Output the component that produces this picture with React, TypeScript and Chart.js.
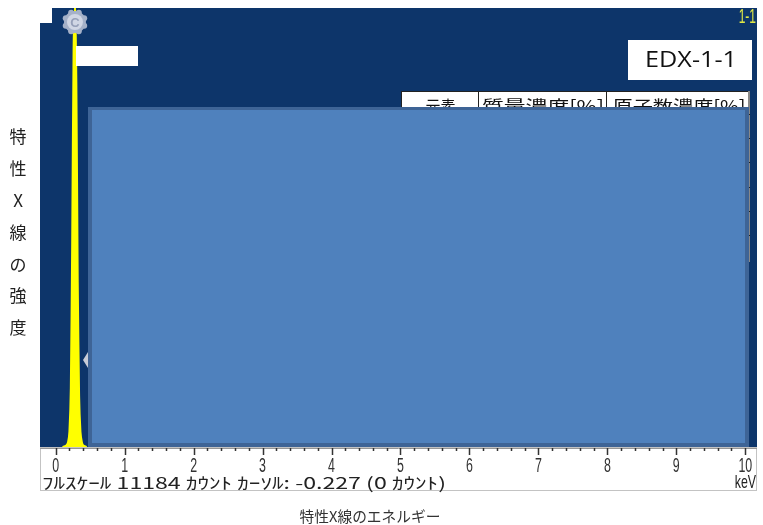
import React, { useEffect, useRef } from "react";
import { Chart, registerables } from "chart.js";

Chart.register(...registerables);

// ---- data ----
const energyKeV = [0.1, 0.15, 0.18, 0.2, 0.22, 0.24, 0.26, 0.28, 0.3, 0.32, 0.34, 0.36, 0.38, 0.4, 0.45];
const counts = [0, 30, 120, 400, 1500, 5200, 10100, 11184, 9300, 4200, 1300, 380, 120, 40, 0];
const fullScaleCounts = 11184;
const xMin = -0.227;
const xMax = 10.17;
const majorTicks = [0, 1, 2, 3, 4, 5, 6, 7, 8, 9, 10];
const tickLabels = ["0", "1", "2", "3", "4", "5", "6", "7", "8", "9", "10"];
const minorStep = 0.2;
const peakLabel = "C";
const peakEnergy = 0.28;
const yAxisTitle = ["特", "性", "X", "線", "の", "強", "度"];
const xAxisTitle = "特性X線のエネルギー";
const infoText = "ﾌﾙｽｹｰﾙ 11184 ｶｳﾝﾄ ｶｰｿﾙ: -0.227 (0 ｶｳﾝﾄ)";
const unitText = "keV";
const sampleLabel = "EDX-1-1";
const cornerLabel = "1-1";
const tableHeaders = ["元素", "質量濃度[%]", "原子数濃度[%]"];

const NAVY = "rgb(13,53,106)";
const JP = '"Noto Sans CJK JP", "Noto Sans", sans-serif';
const SANS = '"Liberation Sans", "DejaVu Sans", sans-serif';

function fitText(ctx: CanvasRenderingContext2D, text: string, x: number, y: number, width: number, align: "left" | "center" | "right") {
  const w = ctx.measureText(text).width;
  const s = width / w;
  ctx.save();
  ctx.textAlign = "left";
  let left = x;
  if (align === "center") left = x - width / 2;
  if (align === "right") left = x - width;
  ctx.translate(left, y);
  ctx.scale(s, 1);
  ctx.fillText(text, 0, 0);
  ctx.restore();
}

function narrowText(ctx: CanvasRenderingContext2D, text: string, x: number, y: number, sx: number, align: "left" | "center" | "right") {
  ctx.save();
  ctx.translate(x, y);
  ctx.scale(sx, 1);
  ctx.textAlign = align;
  ctx.fillText(text, 0, 0);
  ctx.restore();
}

const decorPlugin = {
  id: "decor",
  beforeDraw(chart: any) {
    const { ctx, chartArea: a } = chart;
    ctx.save();
    ctx.fillStyle = "#ffffff";
    ctx.fillRect(0, 0, chart.width, chart.height);
    ctx.fillStyle = NAVY;
    ctx.fillRect(a.left, a.top, a.right - a.left, a.bottom - a.top);
    ctx.fillStyle = "#ffffff";
    ctx.fillRect(a.left, a.top - 1, 12, 16);
    ctx.restore();
  },
  afterDatasetsDraw(chart: any) {
    const { ctx, chartArea: a } = chart;
    const xs = chart.scales.x;
    ctx.save();

    // peak marker (gear)
    const px = xs.getPixelForValue(peakEnergy);
    const py = a.top + 14;
    ctx.fillStyle = "rgb(165,177,200)";
    for (let i = 0; i < 8; i++) {
      const ang = (i * Math.PI) / 4 + Math.PI / 8;
      ctx.beginPath();
      ctx.arc(px + Math.cos(ang) * 10, py + Math.sin(ang) * 10, 3, 0, Math.PI * 2);
      ctx.fill();
    }
    ctx.beginPath();
    ctx.arc(px, py, 11, 0, Math.PI * 2);
    ctx.fill();
    ctx.fillStyle = "rgb(208,214,228)";
    ctx.beginPath();
    ctx.arc(px, py, 8, 0, Math.PI * 2);
    ctx.fill();
    ctx.fillStyle = "rgb(150,160,185)";
    ctx.font = "bold 13px " + SANS;
    ctx.textAlign = "center";
    ctx.textBaseline = "middle";
    ctx.fillText(peakLabel, px, py + 1);

    // white label box near peak
    ctx.fillStyle = "#ffffff";
    ctx.fillRect(76, 46, 62, 20);

    // corner label
    ctx.fillStyle = "rgb(225,232,70)";
    ctx.font = "20px " + SANS;
    ctx.textBaseline = "middle";
    narrowText(ctx, cornerLabel, a.right - 1, 17, 0.6, "right");

    // sample label box
    ctx.fillStyle = "#ffffff";
    ctx.fillRect(628, 40, 124, 40);
    ctx.fillStyle = "#111";
    ctx.font = "21px " + '"Open Sans", "Noto Sans", sans-serif';
    ctx.textBaseline = "middle";
    fitText(ctx, sampleLabel, 691, 61, 92, "center");

    // table
    const tL = 401, tR = 750, tT = 91, tB = 262;
    ctx.fillStyle = "#ffffff";
    ctx.fillRect(tL, tT, tR - tL, tB - tT);
    ctx.strokeStyle = "#222";
    ctx.lineWidth = 1;
    ctx.strokeRect(tL + 0.5, tT + 0.5, tR - tL - 1, tB - tT - 1);
    ctx.strokeStyle = "#888";
    ctx.lineWidth = 2;
    ctx.beginPath();
    ctx.moveTo(tR - 1, tT);
    ctx.lineTo(tR - 1, tB);
    ctx.stroke();
    ctx.lineWidth = 1;
    ctx.strokeStyle = "#222";
    const cols = [478, 606];
    ctx.beginPath();
    cols.forEach((c) => {
      ctx.moveTo(c + 0.5, tT);
      ctx.lineTo(c + 0.5, tB);
    });
    [114, 138, 162, 187, 211, 235].forEach((r) => {
      ctx.moveTo(tL, r + 0.5);
      ctx.lineTo(tR, r + 0.5);
    });
    ctx.stroke();
    ctx.fillStyle = "#111";
    ctx.font = "17px " + JP;
    ctx.textBaseline = "middle";
    const colCenters = [(tL + cols[0]) / 2, (cols[0] + cols[1]) / 2, (cols[1] + tR) / 2];
    const widths = [30, 122, 133];
    tableHeaders.forEach((h, i) => fitText(ctx, h, colCenters[i] + 1, 107, widths[i], "center"));

    // overlay
    ctx.fillStyle = "rgb(62,100,150)";
    ctx.fillRect(88, 107, 661, a.bottom - 107);
    ctx.fillStyle = "rgb(79,129,189)";
    ctx.fillRect(92, 110, 653, a.bottom - 4 - 110);

    // cursor triangle
    ctx.fillStyle = "rgb(200,205,215)";
    ctx.beginPath();
    ctx.moveTo(83, 360);
    ctx.lineTo(88, 352);
    ctx.lineTo(88, 368);
    ctx.closePath();
    ctx.fill();

    // bottom axis panel
    const bT = a.bottom;
    ctx.fillStyle = "#ffffff";
    ctx.fillRect(a.left, bT, a.right - a.left, 44);
    ctx.strokeStyle = "rgb(195,195,195)";
    ctx.strokeRect(a.left + 0.5, bT + 0.5, a.right - a.left - 1, 43);
    ctx.strokeStyle = "rgb(150,150,150)";
    ctx.beginPath();
    ctx.moveTo(a.left, bT + 1.5);
    ctx.lineTo(a.right, bT + 1.5);
    ctx.stroke();
    ctx.strokeStyle = "#333";
    ctx.lineWidth = 1.5;
    ctx.beginPath();
    const nMinor = Math.round((majorTicks[majorTicks.length - 1] - majorTicks[0]) / minorStep);
    for (let i = 0; i <= nMinor; i++) {
      const v = majorTicks[0] + i * minorStep;
      const x = Math.round(xs.getPixelForValue(v)) + 0.5;
      const major = i % 5 === 0;
      ctx.moveTo(x, bT + 1);
      ctx.lineTo(x, bT + (major ? 8 : 4));
    }
    ctx.stroke();

    ctx.fillStyle = "#333";
    ctx.font = "20px " + SANS;
    ctx.textBaseline = "middle";
    majorTicks.forEach((v, i) => {
      narrowText(ctx, tickLabels[i], xs.getPixelForValue(v), bT + 19, 0.62, "center");
    });

    ctx.fillStyle = "#222";
    ctx.font = "16px " + JP;
    ctx.textBaseline = "middle";
    fitText(ctx, infoText, a.left + 2, bT + 36, 404, "left");
    ctx.font = "19px " + SANS;
    narrowText(ctx, unitText, a.right - 1, bT + 36, 0.65, "right");

    // axis titles
    ctx.fillStyle = "#333";
    ctx.font = "15px " + JP;
    ctx.textBaseline = "middle";
    fitText(ctx, xAxisTitle, 370, 516, 141, "center");
    ctx.fillStyle = "#222";
    ctx.font = "17px " + JP;
    ctx.textAlign = "center";
    yAxisTitle.forEach((ch, i) => {
      ctx.fillText(ch, 18, 137 + i * 31.8);
    });

    ctx.restore();
  },
};

export default function App() {
  const ref = useRef<HTMLCanvasElement | null>(null);
  useEffect(() => {
    if (!ref.current) return;
    const chart = new Chart(ref.current, {
      type: "line",
      data: {
        datasets: [
          {
            data: energyKeV.map((e, i) => ({ x: e, y: counts[i] })),
            borderColor: "rgb(255,255,0)",
            backgroundColor: "rgb(255,255,0)",
            borderWidth: 2,
            fill: "origin",
            pointRadius: 0,
            tension: 0.2,
          },
        ],
      },
      options: {
        responsive: false,
        animation: false,
        devicePixelRatio: 1,
        layout: { padding: { left: 40, right: 6, top: 8, bottom: 78 } },
        scales: {
          x: { type: "linear", min: xMin, max: xMax, display: false },
          y: { type: "linear", min: 0, max: fullScaleCounts, display: false },
        },
        plugins: { legend: { display: false }, tooltip: { enabled: false } },
      },
      plugins: [decorPlugin],
    });
    return () => chart.destroy();
  }, []);
  return (
    <div style={{ position: "absolute", left: 0, top: 0, width: 763, height: 525 }}>
      <canvas ref={ref} width={763} height={525} style={{ display: "block" }} />
    </div>
  );
}
